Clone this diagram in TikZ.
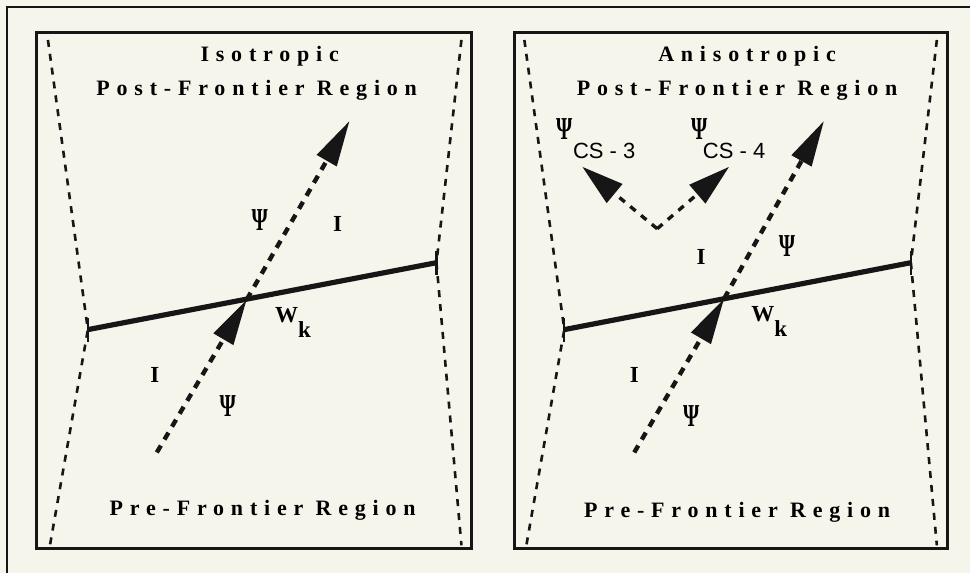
\documentclass[tikz,border=0pt]{standalone}
\usepackage{fontspec}
\setmainfont{Liberation Serif}
\setsansfont{Liberation Sans}
\usetikzlibrary{arrows.meta}
\definecolor{cPaper}{HTML}{F6F5EC}
\definecolor{cInk}{HTML}{161616}
\newcommand{\psiglyph}{\scalebox{0.65}[1]{Ψ}}

\begin{document}
\begin{tikzpicture}[
    x=0.5pt, y=-0.5pt, font=\fontsize{10}{12}\selectfont,
    outer/.style={draw=cInk, line width=1.2pt},
    frame/.style={draw=cInk, line width=1.5pt},
    bound/.style={draw=cInk, line width=1.3pt, dash pattern=on 3.5pt off 3.5pt},
    front/.style={draw=cInk, line width=2.6pt},
    tick/.style={draw=cInk, line width=1.1pt},
    ray/.style={draw=cInk, line width=2.2pt, dash pattern=on 4pt off 3.5pt,
                -{Triangle[length=23pt, width=11pt]}},
    cs/.style={draw=cInk, line width=1.7pt, dash pattern=on 3.5pt off 3.5pt,
               -{Triangle[length=21pt, width=12pt]}},
    ttl/.style={font=\bfseries\fontsize{11}{13}\selectfont\addfontfeature{LetterSpace=31},
                inner sep=0pt},
    sym/.style={font=\bfseries\fontsize{11.5}{14}\selectfont, inner sep=0pt},
    psi/.style={font=\bfseries\fontsize{16}{18}\selectfont, inner sep=0pt},
    wk/.style={font=\bfseries\fontsize{11.5}{14}\selectfont, inner sep=0pt,
               anchor=base west},
    sub/.style={font=\sffamily\fontsize{11}{13}\selectfont, inner sep=0pt},
]

% ===================== Fondo y marco exterior =====================
\fill[cPaper] (0,0) rectangle (971,574);
\draw[outer] (971,7) -- (7,7) -- (7,574);

% ===================== Caso isotropo =====================
\draw[frame] (37,33) rectangle (472,549);

\coordinate (lTL) at (48,40);
\coordinate (lML) at (88,330);
\coordinate (lBL) at (50,546);
\coordinate (lTR) at (462,40);
\coordinate (lMR) at (437,263);
\coordinate (lBR) at (462,546);
\coordinate (lX) at (247,300);
\coordinate (lS) at (157,453);
\coordinate (lE) at (350,121);

\draw[bound] (lTL) -- (lML) -- (lBL);
\draw[bound] (lTR) -- (lMR) -- (lBR);
\draw[front] (lML) -- (lMR);
\draw[tick] ([yshift=-6]lML) -- ([yshift=6]lML);
\draw[tick] ([yshift=-6]lMR) -- ([yshift=6]lMR);
\draw[ray] (lS) -- (lX);
\draw[ray] (lX) -- (lE);

\node[ttl] (lIso) at (270,56) {Isotropic};
\node[ttl] (lPost) at (257,90) {Post-Frontier Region};
\node[psi] (lPsiU) at (260,220) {\psiglyph};
\node[sym] (lIU) at (338,224) {I};
\node[wk] (lW) at (275,323) {W\raisebox{-7.5pt}{k}};
\node[sym] (lID) at (155,375) {I};
\node[psi] (lPsiD) at (228,407) {\psiglyph};
\node[ttl] (lPre) at (263,511) {Pre-Frontier Region};

% ===================== Caso anisotropo =====================
\draw[frame] (515,33) rectangle (949,549);

\coordinate (rTL) at (525,40);
\coordinate (rML) at (565,330);
\coordinate (rBL) at (527,546);
\coordinate (rTR) at (938,40);
\coordinate (rMR) at (912,263);
\coordinate (rBR) at (938,546);
\coordinate (rX) at (725,299);
\coordinate (rS) at (635,453);
\coordinate (rE) at (825,121);
\coordinate (rV) at (658,229);
\coordinate (rA) at (583,167);
\coordinate (rB) at (730,167);

\draw[bound] (rTL) -- (rML) -- (rBL);
\draw[bound] (rTR) -- (rMR) -- (rBR);
\draw[front] (rML) -- (rMR);
\draw[tick] ([yshift=-6]rML) -- ([yshift=6]rML);
\draw[tick] ([yshift=-6]rMR) -- ([yshift=6]rMR);
\draw[ray] (rS) -- (rX);
\draw[ray] (rX) -- (rE);
\draw[cs] (rV) -- (rA);
\draw[cs] (rV) -- (rB);

\node[ttl] (rAni) at (748,56) {Anisotropic};
\node[ttl] (rPost) at (738,90) {Post-Frontier Region};
\node[psi] (rPsiA) at (565,129) {\psiglyph};
\node[sub] (rCSa) at (605,151) {CS - 3};
\node[psi] (rPsiB) at (700,129) {\psiglyph};
\node[sub] (rCSb) at (735,151) {CS - 4};
\node[sym] (rIU) at (702,257) {I};
\node[psi] (rPsiU) at (788,246) {\psiglyph};
\node[wk] (rW) at (752,322) {W\raisebox{-7.5pt}{k}};
\node[sym] (rID) at (635,375) {I};
\node[psi] (rPsiD) at (692,417) {\psiglyph};
\node[ttl] (rPre) at (738,513) {Pre-Frontier Region};

\end{tikzpicture}
\end{document}
